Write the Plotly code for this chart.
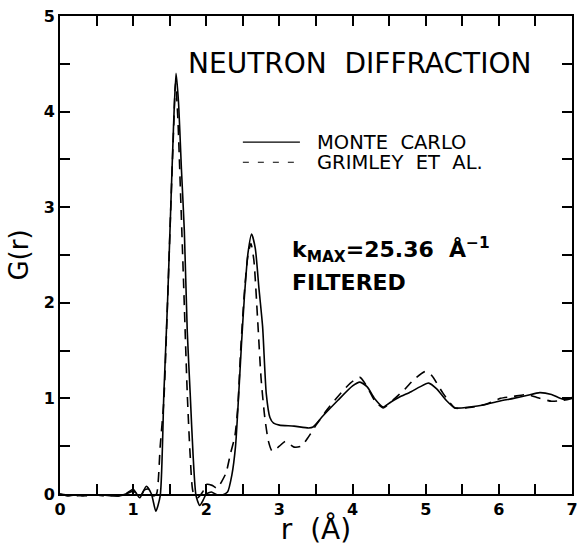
import plotly.graph_objects as go

# Monte Carlo (solid)
mc_r = [0, 0.1, 0.2, 0.3, 0.4, 0.5, 0.6, 0.7, 0.8, 0.9, 1.0, 1.09, 1.18, 1.25, 1.31, 1.37,
        1.42, 1.47, 1.51, 1.55, 1.586, 1.62, 1.66, 1.70, 1.74, 1.78, 1.82, 1.86, 1.91, 1.96,
        2.0, 2.07, 2.15, 2.22, 2.29, 2.35, 2.40, 2.44, 2.48, 2.52, 2.57, 2.62, 2.67, 2.72,
        2.77, 2.82, 2.87, 2.92, 3.0, 3.2, 3.4, 3.46, 3.6, 3.8, 4.0, 4.1, 4.2, 4.3, 4.42,
        4.52, 4.63, 4.8, 4.92, 5.04, 5.15, 5.28, 5.40, 5.6, 5.79, 6.0, 6.2, 6.38, 6.56,
        6.72, 6.88, 7.0]
mc_g = [0.0, -0.02, -0.01, -0.02, -0.01, -0.01, -0.01, -0.02, -0.02, 0.0, 0.05, -0.04, 0.08,
        0.0, -0.18, -0.02, 1.05, 2.0, 2.9, 3.8, 4.40, 4.1, 3.4, 2.75, 1.7, 1.05, 0.4, -0.02,
        -0.12, -0.06, 0.0, 0.02, -0.01, -0.01, 0.02, 0.2, 0.5, 1.0, 1.55, 2.05, 2.52, 2.72,
        2.57, 2.15, 1.75, 1.05, 0.8, 0.74, 0.72, 0.71, 0.69, 0.70, 0.82, 0.98, 1.13, 1.17,
        1.12, 1.0, 0.91, 0.96, 1.01, 1.07, 1.12, 1.16, 1.10, 0.98, 0.90, 0.91, 0.93, 0.97,
        1.0, 1.03, 1.06, 1.04, 0.99, 1.01]

# Grimley et al. (dashed)
gr_r = [0, 0.1, 0.2, 0.3, 0.4, 0.5, 0.6, 0.7, 0.8, 0.9, 1.0, 1.1, 1.15, 1.22, 1.28, 1.32,
        1.37, 1.42, 1.47, 1.51, 1.55, 1.58, 1.61, 1.65, 1.69, 1.74, 1.78, 1.82, 1.88, 1.95,
        2.0, 2.08, 2.15, 2.21, 2.27, 2.33, 2.39, 2.43, 2.47, 2.52, 2.57, 2.61, 2.65, 2.70,
        2.75, 2.80, 2.85, 2.9, 3.0, 3.08, 3.2, 3.3, 3.4, 3.5, 3.65, 3.8, 3.97, 4.1, 4.2,
        4.3, 4.42, 4.55, 4.72, 4.83, 4.99, 5.08, 5.24, 5.4, 5.55, 5.72, 5.86, 6.02, 6.2,
        6.38, 6.52, 6.72, 6.88, 7.0]
gr_g = [0.0, -0.01, -0.02, -0.01, -0.02, -0.01, -0.02, -0.01, -0.02, 0.0, 0.03, -0.02, 0.04,
        0.05, -0.02, 0.0, 0.5, 0.98, 2.0, 2.9, 3.75, 4.3, 3.95, 3.1, 2.2, 1.05, 0.4, 0.02,
        -0.04, 0.02, 0.1, 0.09, 0.06, 0.13, 0.22, 0.42, 0.6, 0.9, 1.5, 2.1, 2.5, 2.62, 2.45,
        1.85, 1.2, 0.8, 0.55, 0.45, 0.5, 0.55, 0.49, 0.5, 0.6, 0.72, 0.88, 1.02, 1.16, 1.22,
        1.12, 0.98, 0.9, 0.98, 1.10, 1.19, 1.28, 1.24, 1.05, 0.9, 0.9, 0.92, 0.95, 1.0, 1.02,
        1.04, 1.01, 0.97, 0.98, 1.0]

x_tickvals = [0, 0.5, 1, 1.5, 2, 2.5, 3, 3.5, 4, 4.5, 5, 5.5, 6, 6.5, 7]
x_ticktext = ["<b>0</b>", " ", "<b>1</b>", " ", "<b>2</b>", " ", "<b>3</b>", " ", "<b>4</b>", " ",
              "<b>5</b>", " ", "<b>6</b>", " ", "<b>7</b>"]
y_tickvals = [0, 0.5, 1, 1.5, 2, 2.5, 3, 3.5, 4, 4.5, 5]
y_ticktext = ["<b>0</b>", " ", "<b>1</b>", " ", "<b>2</b>", " ", "<b>3</b>", " ", "<b>4</b>", " ",
              "<b>5</b>"]
Y_LOW = -0.22
Y0_FRAC = -Y_LOW / (5 - Y_LOW)

fig = go.Figure()
# data drawn on y2 (extends slightly below zero so negative dips stay visible)
fig.add_trace(go.Scatter(x=mc_r, y=mc_g, mode="lines", name="MONTE CARLO", yaxis="y2",
                         line=dict(color="black", width=1.6, shape="spline", smoothing=0.6)))
fig.add_trace(go.Scatter(x=gr_r, y=gr_g, mode="lines", name="GRIMLEY ET AL.", yaxis="y2",
                         line=dict(color="black", width=1.6, dash="10px,7px",
                                   shape="spline", smoothing=0.6)))
# empty trace on the framed x/y subplot
fig.add_trace(go.Scatter(x=[], y=[], showlegend=False, hoverinfo="skip"))

tickfont = dict(family="DejaVu Sans", size=16, color="black")
fig.update_layout(
    xaxis=dict(range=[0, 7], tickmode="array", tickvals=x_tickvals, ticktext=x_ticktext,
               ticks="inside", ticklen=10, tickwidth=2, tickcolor="black",
               showline=True, linecolor="black", linewidth=2, mirror="ticks",
               showgrid=False, zeroline=False, anchor="y", tickfont=tickfont,
               layer="above traces",
               title=dict(text="r  (Å)", font=dict(family="DejaVu Sans", size=28,
                                                    color="black"), standoff=3)),
    yaxis=dict(range=[0, 5], domain=[Y0_FRAC, 1], anchor="x", tickmode="array",
               tickvals=y_tickvals, ticktext=y_ticktext,
               ticks="inside", ticklen=10, tickwidth=2, tickcolor="black",
               showline=True, linecolor="black", linewidth=2, mirror="ticks",
               showgrid=False, zeroline=False, tickfont=tickfont,
               layer="above traces",
               title=dict(text="G(r)", font=dict(family="DejaVu Sans", size=26,
                                                 color="black"), standoff=8)),
    yaxis2=dict(range=[Y_LOW, 5], domain=[0, 1], anchor="x", visible=False,
                showgrid=False, zeroline=False),
)

# legend keys
fig.add_shape(type="line", xref="x", yref="y", x0=2.50, x1=3.28, y0=3.68, y1=3.68,
              line=dict(color="black", width=1.2))
fig.add_shape(type="line", xref="x", yref="y", x0=2.50, x1=3.28, y0=3.47, y1=3.47,
              line=dict(color="black", width=1.2, dash="6px,9px"))

txt = dict(family="DejaVu Sans", color="black")
fig.add_annotation(x=4.10, y=4.50, xref="x", yref="y", text="NEUTRON  DIFFRACTION",
                   showarrow=False, font=dict(size=28, **txt))
fig.add_annotation(x=3.49, y=3.68, xref="x", yref="y", text="MONTE  CARLO",
                   showarrow=False, xanchor="left", font=dict(size=19.5, **txt))
fig.add_annotation(x=3.49, y=3.47, xref="x", yref="y", text="GRIMLEY  ET  AL.",
                   showarrow=False, xanchor="left", font=dict(size=19.5, **txt))
fig.add_annotation(x=3.15, y=2.55, xref="x", yref="y",
                   text="<b>k<sub>MAX</sub>=25.36  Å<sup>−1</sup></b>",
                   showarrow=False, xanchor="left", font=dict(size=22, **txt))
fig.add_annotation(x=3.15, y=2.21, xref="x", yref="y", text="<b>FILTERED</b>",
                   showarrow=False, xanchor="left", font=dict(size=22, **txt))

fig.update_layout(width=580, height=546, margin=dict(l=60, r=8, t=16, b=31, autoexpand=False),
                  plot_bgcolor="rgba(0,0,0,0)", paper_bgcolor="white", showlegend=False)

fig.write_html("out.html", config={"displayModeBar": False},
               post_script="document.body.style.margin='0px';")
